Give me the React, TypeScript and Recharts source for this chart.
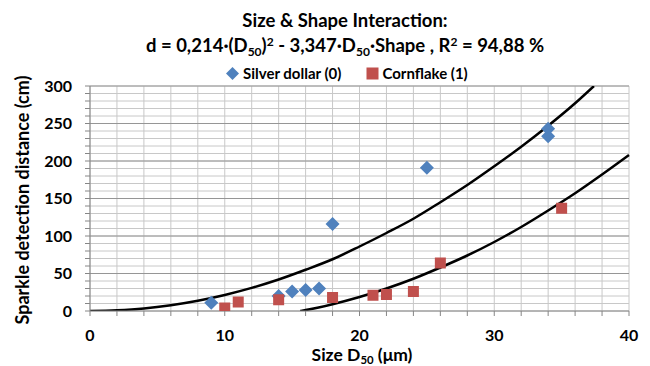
import React from "react";
import {
  ComposedChart,
  Line,
  Scatter,
  XAxis,
  YAxis,
  CartesianGrid,
  ReferenceLine,
} from "recharts";

document.body.style.margin = "0";

// measured points
const silverX = [9, 14, 15, 16, 17, 18, 25, 34, 34];
const silverY = [11, 20, 26, 28, 30, 116, 191, 243, 233];
const cornX = [10, 11, 14, 18, 21, 22, 24, 26, 35];
const cornY = [4, 12, 15, 18, 21, 22, 26, 64, 137];

// fitted curves
const fit0X = [0, 2, 4, 6, 8, 10, 12, 14, 16, 18, 20, 22, 24, 26, 28, 30, 32, 34, 36, 37.4];
const fit0Y = [0, 1, 3.4, 7.7, 13.7, 21.4, 30.8, 42, 55, 69, 86, 104, 123, 145, 168, 193, 219, 247, 277, 300];
const fit1X = [15.6, 16, 18, 20, 22, 24, 26, 28, 30, 32, 34, 36, 38, 40];
const fit1Y = [0, 1.2, 9, 18.6, 30, 43, 58, 74, 92, 112, 134, 157, 182, 208];

const xTicks = [0, 2, 4, 6, 8, 10, 12, 14, 16, 18, 20, 22, 24, 26, 28, 30, 32, 34, 36, 38, 40];
const yTicks = [0, 10, 20, 30, 40, 50, 60, 70, 80, 90, 100, 110, 120, 130, 140, 150, 160, 170, 180, 190, 200, 210, 220, 230, 240, 250, 260, 270, 280, 290, 300];
const yMajor = [50, 100, 150, 200, 250, 300];

const BLUE = "#4F81BD";
const RED = "#C0504D";
const FONT = "Lato, 'Open Sans', sans-serif";

const zip = (xs: number[], ys: number[]) => xs.map((x, i) => ({ x, y: ys[i] }));

const Diamond = (p: any) => {
  const { cx, cy } = p;
  const r = 7;
  return <path d={`M${cx},${cy - r}L${cx + r},${cy}L${cx},${cy + r}L${cx - r},${cy}Z`} fill={BLUE} />;
};

const Square = (p: any) => {
  const { cx, cy } = p;
  const r = 5.5;
  return <rect x={cx - r} y={cy - r} width={r * 2} height={r * 2} fill={RED} />;
};

const sub = { fontSize: "0.65em", position: "relative", top: "0.3em", lineHeight: 0 } as const;
const sup = { fontSize: "0.65em", position: "relative", top: "-0.5em", lineHeight: 0 } as const;

const tickStyle = { fill: "#000", fontSize: 16, fontWeight: 700, fontFamily: FONT };

export default function App() {
  return (
    <div style={{ position: "relative", width: 650, height: 366, background: "#fff", fontFamily: FONT, overflow: "hidden" }}>
      <ComposedChart
        width={650}
        height={366}
        margin={{ top: 86, right: 21, left: 0, bottom: 0 }}
      >
        <CartesianGrid stroke="#c8c8c8" strokeWidth={1} />
        {yMajor.map((v) => (
          <ReferenceLine key={v} y={v} stroke="#969696" strokeWidth={1} />
        ))}
        <XAxis
          type="number"
          dataKey="x"
          domain={[0, 40]}
          ticks={xTicks}
          interval={0}
          height={55}
          tickSize={5}
          tickMargin={14}
          stroke="#868686"
          tick={tickStyle}
          tickFormatter={(v: number) => (v % 10 === 0 ? String(v) : "")}
        />
        <YAxis
          type="number"
          dataKey="y"
          domain={[0, 300]}
          ticks={yTicks}
          interval={0}
          width={90}
          tickSize={5}
          tickMargin={13}
          allowDataOverflow
          stroke="#868686"
          tick={tickStyle}
          tickFormatter={(v: number) => (v % 50 === 0 ? String(v) : "")}
        />
        <Line data={zip(fit0X, fit0Y)} dataKey="y" type="monotone" stroke="#000" strokeWidth={2.5} dot={false} isAnimationActive={false} />
        <Line data={zip(fit1X, fit1Y)} dataKey="y" type="monotone" stroke="#000" strokeWidth={2.5} dot={false} isAnimationActive={false} />
        <Scatter data={zip(silverX, silverY)} shape={Diamond} isAnimationActive={false} />
        <Scatter data={zip(cornX, cornY)} shape={Square} isAnimationActive={false} />
      </ComposedChart>

      <div style={{ position: "absolute", top: 8, left: 0, width: 690, textAlign: "center", fontWeight: 700, fontSize: 18.5, lineHeight: "24px" }}>
        Size &amp; Shape Interaction:
      </div>
      <div style={{ position: "absolute", top: 33, left: 0, width: 690, textAlign: "center", fontWeight: 700, fontSize: 18.5, lineHeight: "24px" }}>
        d = 0,214·(D<span style={sub}>50</span>)<span style={sup}>2</span> - 3,347·D<span style={sub}>50</span>·Shape , R<span style={sup}>2</span> = 94,88 %
      </div>

      <div style={{ position: "absolute", top: 63, left: 225, fontSize: 15, fontWeight: 700, display: "flex", alignItems: "center", whiteSpace: "nowrap", lineHeight: "20px" }}>
        <svg width={15} height={15}><path d="M7.5,1L14,7.5L7.5,14L1,7.5Z" fill={BLUE} /></svg>
        <span style={{ marginLeft: 3 }}>Silver dollar (0)</span>
        <svg width={13} height={13} style={{ marginLeft: 25 }}><rect x={0.5} y={0.5} width={12} height={12} fill={RED} /></svg>
        <span style={{ marginLeft: 3 }}>Cornflake (1)</span>
      </div>

      <div style={{ position: "absolute", left: 22, top: 200, width: 0, height: 0 }}>
        <div style={{ position: "absolute", transform: "translate(-50%, -50%) rotate(-90deg)", whiteSpace: "nowrap", fontSize: 18, fontWeight: 700 }}>
          Sparkle detection distance (cm)
        </div>
      </div>

      <div style={{ position: "absolute", top: 346, left: 0, width: 724, textAlign: "center", fontSize: 17.5, fontWeight: 700, lineHeight: "18px" }}>
        Size D<span style={sub}>50</span> (μm)
      </div>
    </div>
  );
}
